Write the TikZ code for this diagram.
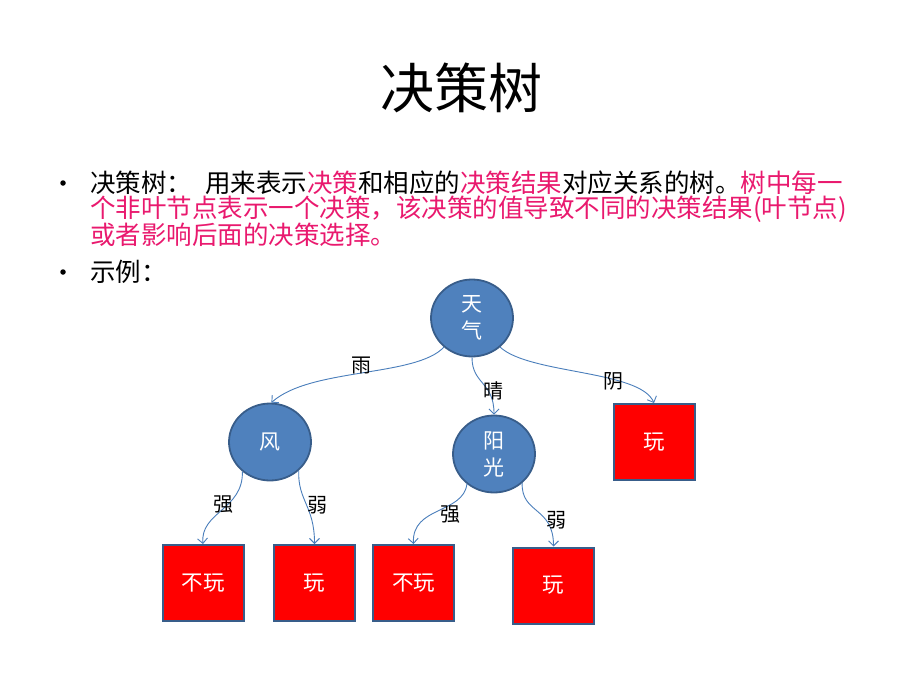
\documentclass[tikz,border=0pt]{standalone}
\usepackage{fontspec}
\setmainfont{Noto Sans CJK SC}
\usetikzlibrary{arrows.meta,shapes.geometric}
\definecolor{pk}{RGB}{233,25,110}
\definecolor{cfill}{RGB}{79,129,189}
\definecolor{cborder}{RGB}{56,93,138}
\definecolor{edgec}{RGB}{74,126,187}
\tikzset{
  body/.style={anchor=west,inner sep=0pt,font=\fontsize{25.5}{26}\selectfont},
  bul/.style={circle,fill=black,inner sep=0pt,minimum size=5.5pt},
  decision/.style={ellipse,draw=cborder,fill=cfill,line width=1.8pt,minimum width=82pt,minimum height=77pt,inner sep=0pt,text=white,align=center,font=\fontsize{21}{27}\selectfont},
  leaf/.style={rectangle,draw=cborder,fill=red,line width=2pt,minimum width=81pt,minimum height=76pt,inner sep=0pt,text=white,font=\fontsize{21.5}{24}\selectfont},
  conn/.style={draw=edgec,line width=0.9pt,-{Straight Barb[length=5pt,width=10pt]}},
  elabel/.style={inner sep=0pt,text=black,font=\fontsize{20}{22}\selectfont}
}
\begin{document}
\begin{tikzpicture}[x=1pt,y=-1pt]
\useasboundingbox (0,0) rectangle (920,690);
% title
\node[inner sep=0pt,font=\fontsize{54}{60}\selectfont] (title) at (461,88) {决策树};
% bullets
\node[bul] (b1) at (63,183) {};
\node[body] (l1a) at (90,183) {决策树：};
\node[body] (l1b) at (205,183) {用来表示{\color{pk}决策}和相应的{\color{pk}决策结果}对应关系的树。{\color{pk}树中每一}};
\node[body,text=pk] (l2) at (90,209) {个非叶节点表示一个决策，该决策的值导致不同的决策结果(叶节点)};
\node[body,text=pk] (l3) at (90,235) {或者影响后面的决策选择。};
\node[bul] (b2) at (63,272) {};
\node[body] (l4) at (90,272) {示例：};
% tree nodes
\node[decision] (tq) at (472,318) {天\\气};
\node[decision] (f) at (270,442) {风};
\node[decision] (yg) at (494,454) {阳\\光};
\node[leaf] (p1) at (654,442) {玩};
\node[leaf] (n1) at (203,583) {不玩};
\node[leaf] (p2) at (314.5,583) {玩};
\node[leaf] (n2) at (413.5,583) {不玩};
\node[leaf] (p3) at (553.5,585.5) {玩};
% connectors
\draw[conn] (tq.226) .. controls +(-28,30) and +(39,-35) .. (f.88);
\draw[conn] (tq.-90) .. controls +(0,27) and +(0,-33) .. (yg.north);
\draw[conn] (tq.-46) .. controls +(29,27) and +(-14,-33) .. (p1.north);
\draw[conn] (f.227) .. controls +(1,38) and +(-3,-32) .. (n1.north);
\draw[conn] (f.-45) .. controls +(-1,30) and +(0,-38) .. (p2.north);
\draw[conn] (yg.228) .. controls +(-4,30) and +(-2,-38) .. (n2.north);
\draw[conn] (yg.-46) .. controls +(-1,31) and +(0,-40) .. (p3.north);
% labels
\node[elabel] (lyu) at (361,366) {雨};
\node[elabel] (lqing) at (493,391) {晴};
\node[elabel] (lyin) at (613,381) {阴};
\node[elabel] (lq1) at (223,505) {强};
\node[elabel] (lr1) at (317,505) {弱};
\node[elabel] (lq2) at (450,515) {强};
\node[elabel] (lr2) at (556,520) {弱};
\end{tikzpicture}
\end{document}
